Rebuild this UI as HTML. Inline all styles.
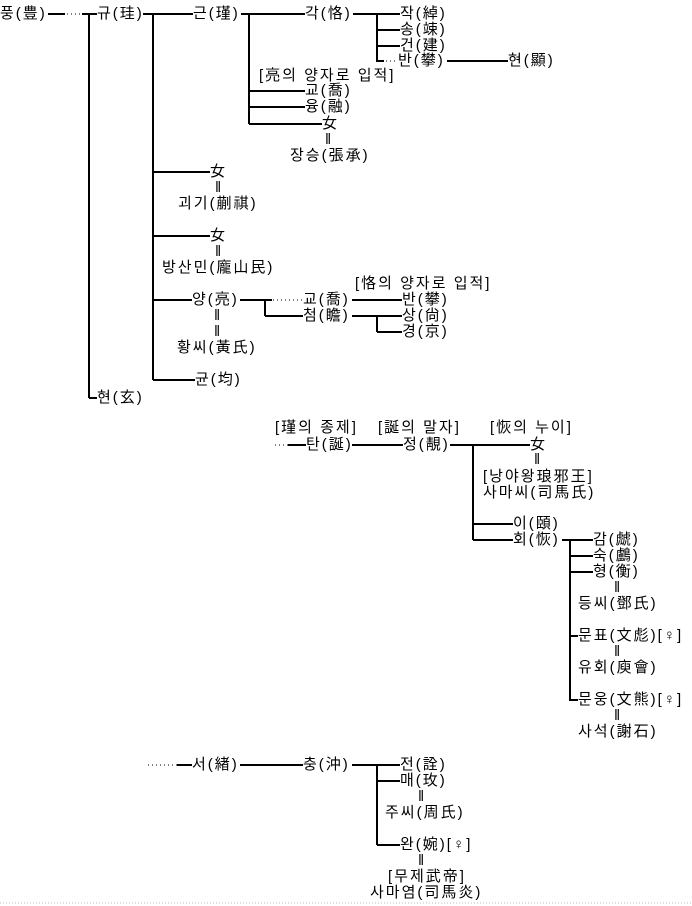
<!DOCTYPE html>
<html><head><meta charset="utf-8"><style>
body{margin:0;width:692px;height:906px;background:#fff;position:relative;overflow:hidden;font-family:"Liberation Sans","Noto Sans CJK KR","NanumGothic",sans-serif;font-size:15px;color:#000}
.t{position:absolute;white-space:nowrap;line-height:18px;height:18px;letter-spacing:2px}
svg{position:absolute;left:0;top:0}
</style></head><body>
<svg width="692" height="906">
<g stroke="#000" stroke-width="2" fill="none">
<line x1="48" y1="14" x2="65" y2="14"/><line x1="82" y1="14" x2="97" y2="14"/>
<line x1="89" y1="14" x2="89" y2="398"/><line x1="89" y1="398" x2="97" y2="398"/>
<line x1="143" y1="14" x2="193" y2="14"/><line x1="153" y1="14" x2="153" y2="380"/>
<line x1="241" y1="14" x2="305" y2="14"/><line x1="249" y1="14" x2="249" y2="124"/>
<line x1="353" y1="14" x2="400" y2="14"/><line x1="377" y1="14" x2="377" y2="61"/>
<line x1="377" y1="30" x2="400" y2="30"/><line x1="377" y1="46" x2="400" y2="46"/><line x1="376" y1="61" x2="384" y2="61"/>
<line x1="447" y1="61" x2="508" y2="61"/>
<line x1="249" y1="91" x2="305" y2="91"/><line x1="249" y1="107" x2="305" y2="107"/><line x1="249" y1="124" x2="322" y2="124"/>
<line x1="153" y1="172" x2="210" y2="172"/><line x1="153" y1="236" x2="210" y2="236"/>
<line x1="153" y1="300" x2="192" y2="300"/><line x1="153" y1="380" x2="195" y2="380"/>
<line x1="240" y1="300" x2="272" y2="300"/><line x1="265" y1="300" x2="265" y2="316"/><line x1="265" y1="316" x2="303" y2="316"/>
<line x1="352" y1="300" x2="402" y2="300"/><line x1="352" y1="316" x2="402" y2="316"/>
<line x1="377" y1="316" x2="377" y2="332"/><line x1="377" y1="332" x2="402" y2="332"/>
<line x1="288" y1="445" x2="306" y2="445"/><line x1="352" y1="445" x2="403" y2="445"/><line x1="450" y1="445" x2="530" y2="445"/>
<line x1="473" y1="445" x2="473" y2="540"/><line x1="473" y1="524" x2="513" y2="524"/><line x1="473" y1="540" x2="513" y2="540"/>
<line x1="562" y1="540" x2="593" y2="540"/><line x1="570" y1="540" x2="570" y2="701"/>
<line x1="570" y1="556" x2="593" y2="556"/><line x1="570" y1="572" x2="593" y2="572"/>
<line x1="570" y1="636" x2="578" y2="636"/><line x1="570" y1="700" x2="578" y2="700"/>
<line x1="177" y1="765" x2="192" y2="765"/><line x1="240" y1="765" x2="303" y2="765"/><line x1="352" y1="765" x2="400" y2="765"/>
<line x1="377" y1="765" x2="377" y2="845"/><line x1="377" y1="781" x2="400" y2="781"/>
<line x1="377" y1="845" x2="400" y2="845"/>
</g>
<g stroke="#000" stroke-width="1" stroke-dasharray="1 3" fill="none">
<line x1="67" y1="14" x2="81" y2="14"/>
<line x1="386" y1="61" x2="398" y2="61"/>
<line x1="273" y1="300" x2="303" y2="300"/>
<line x1="275" y1="445" x2="288" y2="445"/>
<line x1="148" y1="765" x2="177" y2="765"/>
</g>
<line x1="0" y1="903" x2="692" y2="903" stroke="#bbb" stroke-width="1" stroke-dasharray="1 2"/>
</svg>
<div class="t" style="left:0;top:5px">풍(豊)</div>
<div class="t" style="left:97px;top:5px">규(珪)</div>
<div class="t" style="left:193px;top:5px">근(瑾)</div>
<div class="t" style="left:305px;top:5px">각(恪)</div>
<div class="t" style="left:400px;top:5px">작(綽)</div>
<div class="t" style="left:400px;top:21px">송(竦)</div>
<div class="t" style="left:400px;top:37px">건(建)</div>
<div class="t" style="left:398px;top:52px">반(攀)</div>
<div class="t" style="left:508px;top:52px">현(顯)</div>
<div class="t" style="left:259px;top:67px">[亮의 양자로 입적]</div>
<div class="t" style="left:305px;top:82px">교(喬)</div>
<div class="t" style="left:305px;top:98px">융(融)</div>
<div class="t" style="left:322px;top:115px">女</div>
<div class="t" style="left:325px;top:131px">‖</div>
<div class="t" style="left:290px;top:147px">장승(張承)</div>
<div class="t" style="left:210px;top:163px">女</div>
<div class="t" style="left:215px;top:179px">‖</div>
<div class="t" style="left:178px;top:195px">괴기(蒯祺)</div>
<div class="t" style="left:210px;top:227px">女</div>
<div class="t" style="left:215px;top:243px">‖</div>
<div class="t" style="left:162px;top:259px">방산민(龐山民)</div>
<div class="t" style="left:355px;top:275px">[恪의 양자로 입적]</div>
<div class="t" style="left:192px;top:291px">양(亮)</div>
<div class="t" style="left:303px;top:291px">교(喬)</div>
<div class="t" style="left:402px;top:291px">반(攀)</div>
<div class="t" style="left:303px;top:307px">첨(瞻)</div>
<div class="t" style="left:402px;top:307px">상(尙)</div>
<div class="t" style="left:402px;top:323px">경(京)</div>
<div class="t" style="left:214px;top:307px">‖</div>
<div class="t" style="left:214px;top:323px">‖</div>
<div class="t" style="left:177px;top:339px">황씨(黃氏)</div>
<div class="t" style="left:195px;top:371px">균(均)</div>
<div class="t" style="left:97px;top:389px">현(玄)</div>
<div class="t" style="left:275px;top:419px">[瑾의 종제]</div>
<div class="t" style="left:378px;top:419px">[誕의 말자]</div>
<div class="t" style="left:490px;top:419px">[恢의 누이]</div>
<div class="t" style="left:306px;top:436px">탄(誕)</div>
<div class="t" style="left:403px;top:436px">정(靚)</div>
<div class="t" style="left:530px;top:436px">女</div>
<div class="t" style="left:534px;top:451px">‖</div>
<div class="t" style="left:483px;top:468px">[낭야왕琅邪王]</div>
<div class="t" style="left:483px;top:484px">사마씨(司馬氏)</div>
<div class="t" style="left:513px;top:515px">이(頤)</div>
<div class="t" style="left:513px;top:531px">회(恢)</div>
<div class="t" style="left:593px;top:531px">감(虤)</div>
<div class="t" style="left:593px;top:547px">숙(鸕)</div>
<div class="t" style="left:593px;top:563px">형(衡)</div>
<div class="t" style="left:614px;top:579px">‖</div>
<div class="t" style="left:578px;top:595px">등씨(鄧氏)</div>
<div class="t" style="left:578px;top:627px">문표(文彪)[♀]</div>
<div class="t" style="left:614px;top:643px">‖</div>
<div class="t" style="left:578px;top:659px">유회(庾會)</div>
<div class="t" style="left:578px;top:691px">문웅(文熊)[♀]</div>
<div class="t" style="left:614px;top:707px">‖</div>
<div class="t" style="left:578px;top:723px">사석(謝石)</div>
<div class="t" style="left:192px;top:756px">서(緖)</div>
<div class="t" style="left:303px;top:756px">충(沖)</div>
<div class="t" style="left:400px;top:756px">전(詮)</div>
<div class="t" style="left:400px;top:772px">매(玫)</div>
<div class="t" style="left:418px;top:788px">‖</div>
<div class="t" style="left:385px;top:804px">주씨(周氏)</div>
<div class="t" style="left:400px;top:836px">완(婉)[♀]</div>
<div class="t" style="left:418px;top:852px">‖</div>
<div class="t" style="left:388px;top:868px">[무제武帝]</div>
<div class="t" style="left:370px;top:884px">사마염(司馬炎)</div>
</body></html>
